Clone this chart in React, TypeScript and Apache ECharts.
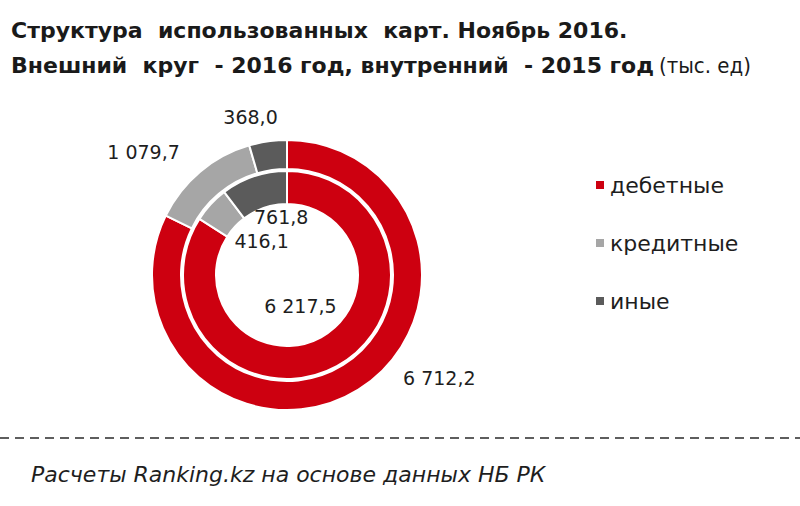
import React, { useEffect, useRef } from "react";
import * as echarts from "echarts";

const categories = ["дебетные", "кредитные", "иные"];
const values2016 = [6712.2, 1079.7, 368.0];
const values2015 = [6217.5, 416.1, 761.8];
const colors = ["#CD0010", "#A6A6A6", "#5B5B5B"];
const titleLine1 = "Структура  использованных  карт. Ноябрь 2016.";
const titleLine2 = "Внешний  круг  - 2016 год, внутренний  - 2015 год";
const titleUnit = "(тыс. ед)";
const footer = "Расчеты Ranking.kz на основе данных НБ РК";

function fmt(v: number): string {
  const [ip, dp] = v.toFixed(1).split(".");
  const withSpaces = ip.replace(/\B(?=(\d{3})+(?!\d))/g, " ");
  return withSpaces + "," + dp;
}

// label nudges relative to the sector's inside position
const outerNudge = [
  [87, -2],
  [-64, -28],
  [-19, -36],
];
const innerNudge = [
  [-30, -48],
  [41, 27],
  [23, 28],
];

export default function App() {
  const ref = useRef<HTMLDivElement>(null);
  useEffect(() => {
    if (!ref.current) return;
    const chart = echarts.init(ref.current, null, { renderer: "svg" });
    const labelStyle = {
      show: true,
      position: "inside" as const,
      color: "#1E1E1E",
      fontFamily: "DejaVu Sans",
      fontSize: 19,
      formatter: (p: any) => fmt(p.value),
    };
    const mk = (vals: number[]) =>
      categories.map((c, i) => ({ name: c, value: vals[i], itemStyle: { color: colors[i] } }));
    chart.setOption({
      animation: false,
      backgroundColor: "#ffffff",
      title: {
        left: 11,
        top: 13,
        padding: 0,
        text: `{b|${titleLine1}}\n{b|${titleLine2}} {n|${titleUnit}}`,
        textStyle: {
          rich: {
            b: {
              fontFamily: "DejaVu Sans",
              fontWeight: "bold",
              fontSize: 22,
              color: "#1A1A1A",
              lineHeight: 35,
            },
            n: {
              fontFamily: "DejaVu Sans Condensed",
              fontWeight: "normal",
              fontSize: 22,
              color: "#1A1A1A",
              lineHeight: 35,
            },
          },
        },
      },
      legend: {
        orient: "vertical",
        left: 589,
        top: 169,
        icon: "rect",
        itemWidth: 10,
        itemHeight: 10,
        itemGap: 36,
        data: categories,
        textStyle: {
          fontFamily: "DejaVu Sans",
          fontSize: 22,
          lineHeight: 22,
          color: "#1E1E1E",
          padding: [0, 0, 0, 0],
        },
      },
      series: [
        {
          type: "pie",
          name: "2016",
          center: [287, 275],
          radius: [106, 135],
          startAngle: 90,
          clockwise: true,
          avoidLabelOverlap: false,
          itemStyle: { borderColor: "#ffffff", borderWidth: 2 },
          label: labelStyle,
          labelLine: { show: false },
          emphasis: { disabled: true },
          labelLayout: (p: any) => ({ dx: outerNudge[p.dataIndex][0], dy: outerNudge[p.dataIndex][1] }),
          data: mk(values2016),
        },
        {
          type: "pie",
          name: "2015",
          center: [287, 275],
          radius: [71, 104],
          startAngle: 90,
          clockwise: true,
          avoidLabelOverlap: false,
          itemStyle: { borderColor: "#ffffff", borderWidth: 2 },
          label: labelStyle,
          labelLine: { show: false },
          emphasis: { disabled: true },
          labelLayout: (p: any) => ({ dx: innerNudge[p.dataIndex][0], dy: innerNudge[p.dataIndex][1] }),
          data: mk(values2015),
        },
      ],
      graphic: [
        {
          type: "line",
          shape: { x1: 0, y1: 438, x2: 800, y2: 438 },
          style: { stroke: "#2A2A2A", lineWidth: 1.5, lineDash: [9, 6] },
        },
        {
          type: "text",
          x: 31,
          y: 474,
          style: {
            text: footer,
            fontFamily: "DejaVu Sans",
            fontStyle: "italic",
            fontSize: 22,
            fill: "#1E1E1E",
            verticalAlign: "middle",
          },
        },
      ],
    });
    return () => chart.dispose();
  }, []);
  return (
    <div
      ref={ref}
      style={{ position: "absolute", left: 0, top: 0, width: 800, height: 506 }}
    />
  );
}
